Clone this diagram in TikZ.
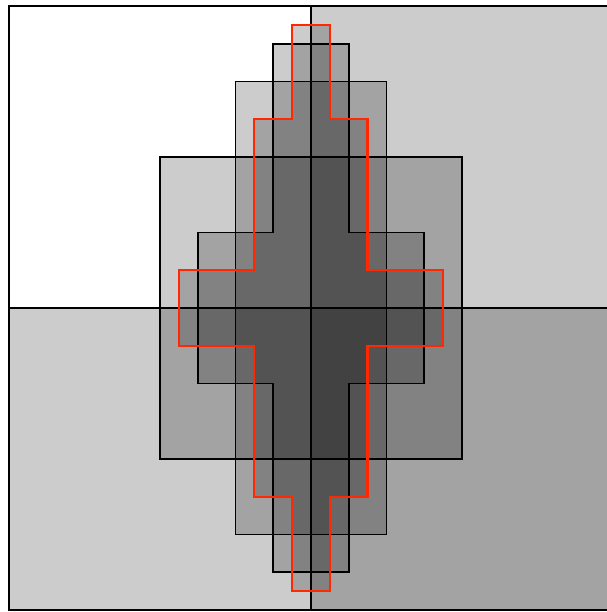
\documentclass[tikz,border=0pt]{standalone}
\usepackage{tikz}
\definecolor{outline}{RGB}{255,40,0}

\begin{document}
\begin{tikzpicture}[
  x=1cm, y=1cm,
  layer/.style={draw=black, line width=1.4pt, fill=black, fill opacity=0.2, line join=miter},
  redcross/.style={draw=outline, line width=1.7pt, fill=black, fill opacity=0.2, line join=miter},
]

% Frame of the picture
\useasboundingbox (-8.238,-8.053) rectangle (7.841,8.159);

% Outer square and its two shaded halves
\draw[line width=1.4pt] (-8,-8) rectangle (8,8);
\draw[layer] (0,-8) rectangle (8,8);
\draw[layer] (-8,-8) rectangle (8,0);

% Centred rectangles
\draw[layer] (-4,-4) -- (4,-4) -- (4,4) -- (-4,4) -- cycle;
\draw[layer] (-2,-6) -- (2,-6) -- (2,6) -- (-2,6) -- cycle;

% Black cross
\draw[layer] (-1,7) -- (1,7) -- (1,2) -- (3,2) -- (3,-2) -- (1,-2) -- (1,-7)
  -- (-1,-7) -- (-1,-2) -- (-3,-2) -- (-3,2) -- (-1,2) -- cycle;

% Red stepped cross
\draw[redcross] (-0.5,7.5) -- (0.5,7.5) -- (0.5,5) -- (1.5,5) -- (1.5,1) -- (3.5,1)
  -- (3.5,-1) -- (1.5,-1) -- (1.5,-5) -- (0.5,-5) -- (0.5,-7.5) -- (-0.5,-7.5)
  -- (-0.5,-5) -- (-1.5,-5) -- (-1.5,-1) -- (-3.5,-1) -- (-3.5,1) -- (-1.5,1)
  -- (-1.5,5) -- (-0.5,5) -- cycle;

\end{tikzpicture}
\end{document}
